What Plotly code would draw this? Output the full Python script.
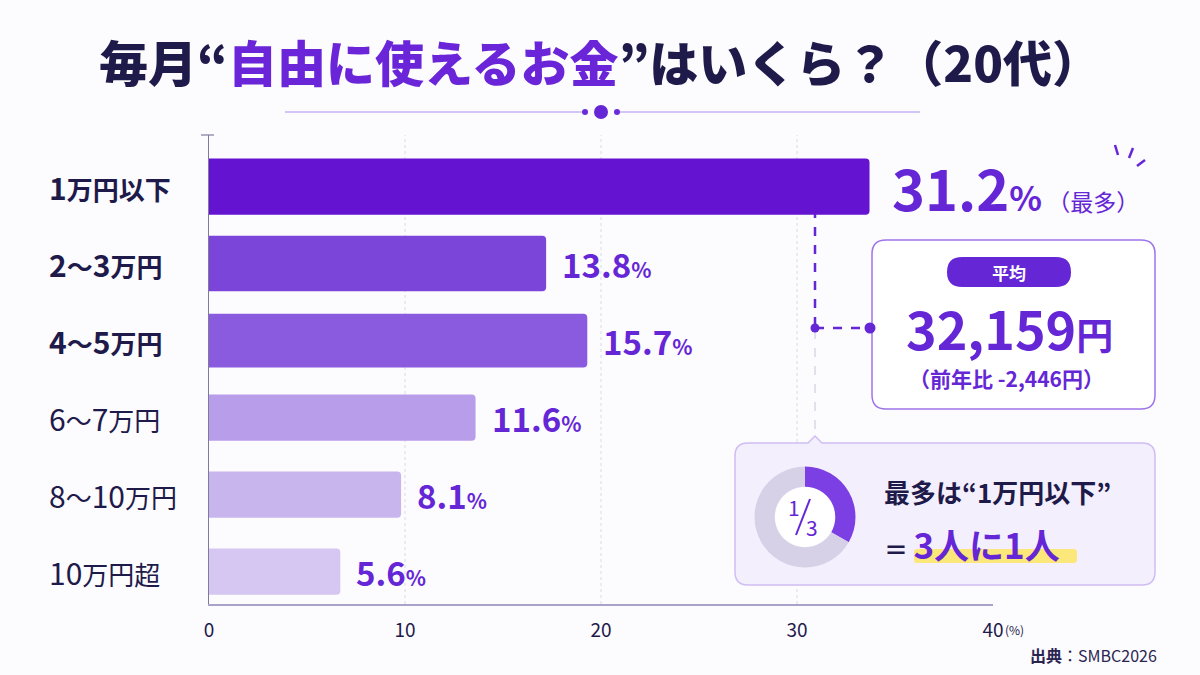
import plotly.graph_objects as go

# ---------------- data ----------------
categories = ["1万円以下", "2～3万円", "4～5万円", "6～7万円", "8～10万円", "10万円超"]
pct_labels = [31.2, 13.8, 15.7, 11.6, 8.1, 5.6]          # printed values
bar_lengths = [33.7, 17.2, 19.3, 13.6, 9.8, 6.7]         # bar lengths as drawn, read against the axis
x_ticks = [0, 10, 20, 30, 40]
avg_yen = 32159
yoy_yen = -2446
donut_values = [1, 2]                                    # 1 in 3 people
donut_labels = ["1万円以下", "その他"]

# ---------------- styles ----------------
W, H = 1200, 675
FONT = "Noto Sans CJK JP"
NAVY = "#1E1A4A"
PURPLE = "#6526D6"
bar_colors = ["#6414D0", "#7B45DA", "#8A5BDF", "#B89DEA", "#C8B5EE", "#D5C7F2"]
bar_widths = [0.73, 0.72, 0.70, 0.60, 0.60, 0.60]


def X(px):
    return px / W


def Y(py):
    return 1 - py / H


def rrect(x0, y0, x1, y1, r, notch=None):
    pts = [f"M{X(x0 + r):.5f},{Y(y0):.5f}"]
    if notch:
        nx, nw, nh = notch
        pts += [f"L{X(nx - nw):.5f},{Y(y0):.5f}", f"L{X(nx):.5f},{Y(y0 - nh):.5f}",
                f"L{X(nx + nw):.5f},{Y(y0):.5f}"]
    pts += [
        f"L{X(x1 - r):.5f},{Y(y0):.5f}", f"Q{X(x1):.5f},{Y(y0):.5f} {X(x1):.5f},{Y(y0 + r):.5f}",
        f"L{X(x1):.5f},{Y(y1 - r):.5f}", f"Q{X(x1):.5f},{Y(y1):.5f} {X(x1 - r):.5f},{Y(y1):.5f}",
        f"L{X(x0 + r):.5f},{Y(y1):.5f}", f"Q{X(x0):.5f},{Y(y1):.5f} {X(x0):.5f},{Y(y1 - r):.5f}",
        f"L{X(x0):.5f},{Y(y0 + r):.5f}", f"Q{X(x0):.5f},{Y(y0):.5f} {X(x0 + r):.5f},{Y(y0):.5f}", "Z"]
    return " ".join(pts)


def circ(cx, cy, r, color, layer="below"):
    return dict(type="circle", xref="paper", yref="paper", x0=X(cx - r), x1=X(cx + r),
                y0=Y(cy + r), y1=Y(cy - r), fillcolor=color, line=dict(width=0), layer=layer)


def seg(x0, y0, x1, y1, color, width=1.5, dash="solid", layer="below"):
    return dict(type="line", xref="paper", yref="paper", x0=X(x0), y0=Y(y0), x1=X(x1), y1=Y(y1),
                line=dict(color=color, width=width, dash=dash), layer=layer)


def fmt_cat(s, bold):
    out = ""
    for ch in s:
        if ch.isdigit():
            out += f"<span style='font-size:30px'>{ch}</span>"
        else:
            out += f"<span style='font-size:26px'>{ch}</span>"
    return f"<b>{out}</b>" if bold else out


fig = go.Figure()

fig.add_trace(go.Bar(
    x=bar_lengths, y=categories, orientation="h",
    marker=dict(color=bar_colors, line=dict(width=0)),
    width=bar_widths, hoverinfo="skip", showlegend=False,
))

fig.add_trace(go.Pie(
    values=donut_values, labels=donut_labels, hole=0.6, sort=False, direction="clockwise",
    marker=dict(colors=["#7B3FE4", "#D6D1E6"], line=dict(width=0)),
    textinfo="none", hoverinfo="skip", showlegend=False, automargin=False,
    domain=dict(x=[X(754.5), X(855.5)], y=[Y(567.5), Y(466.5)]),
))

shapes = []
# gridlines
for t in x_ticks[1:-1]:
    shapes.append(dict(type="line", xref="x", yref="paper", x0=t, x1=t, y0=Y(604), y1=Y(135),
                       line=dict(color="#DCD8E6", width=1, dash="dot"), layer="below"))
# small tick at top of y-axis
shapes.append(seg(201, 135, 214, 135, "#7F7A99", 1.2))
# title decoration
shapes.append(seg(285, 112, 582, 112, "#C7B3F4", 1.5))
shapes.append(seg(620, 112, 920, 112, "#C7B3F4", 1.5))
shapes.append(circ(585, 112, 3, "#6A2BDB"))
shapes.append(circ(617, 112, 3, "#6A2BDB"))
shapes.append(circ(601, 112, 7, "#6526D6"))
# connector lines
shapes.append(seg(815, 330, 815, 438, "#D3CDE2", 1.2, "dash"))
shapes.append(seg(815, 209, 815, 328, PURPLE, 2.5, "dash"))
shapes.append(seg(815, 328, 869, 328, PURPLE, 2.5, "dash"))
shapes.append(circ(815, 328, 4.5, PURPLE))
# average box
shapes.append(dict(type="path", xref="paper", yref="paper", path=rrect(872, 240, 1155, 409, 14),
                   fillcolor="#FFFFFF", line=dict(color="#9E74EA", width=1.5), layer="below"))
shapes.append(circ(870, 328, 5.5, PURPLE))
shapes.append(dict(type="path", xref="paper", yref="paper", path=rrect(947, 257, 1071, 287, 15),
                   fillcolor=PURPLE, line=dict(width=0), layer="below"))
# bottom box
shapes.append(dict(type="path", xref="paper", yref="paper",
                   path=rrect(735, 443, 1155, 585, 13, notch=(815, 7, 7)),
                   fillcolor="#F4EFFD", line=dict(color="#CFBDF3", width=1.5), layer="below"))
shapes.append(circ(805, 517, 30, "#FFFFFF"))
# fraction slash inside donut
shapes.append(seg(796, 535, 810, 499, PURPLE, 2, layer="above"))
# highlight
shapes.append(dict(type="path", xref="paper", yref="paper", path=rrect(914, 549, 1077, 563, 3),
                   fillcolor="#FCE77A", line=dict(width=0), layer="below"))
# sparkle strokes
shapes.append(seg(1115, 145, 1118, 155, PURPLE, 2.5, layer="above"))
shapes.append(seg(1133, 148, 1129, 158, PURPLE, 2.5, layer="above"))
shapes.append(seg(1145, 160, 1137, 166, PURPLE, 2.5, layer="above"))

ann = []
# title
ann.append(dict(xref="paper", yref="paper", x=X(600), y=Y(60), xanchor="center", yanchor="middle",
                showarrow=False,
                text="毎月“<span style='color:#6A25D8'>自由に使えるお金</span>”はいくら？（20代）",
                font=dict(family=FONT, size=49, color=NAVY, weight=900)))
# category labels
for i, c in enumerate(categories):
    ann.append(dict(xref="paper", yref="y", x=X(47), y=c, xanchor="left", yanchor="middle",
                    showarrow=False, text=fmt_cat(c, i < 3),
                    font=dict(family=FONT, size=26, color=NAVY)))
# value labels
for i, (c, L, v) in enumerate(zip(categories, bar_lengths, pct_labels)):
    if i == 0:
        txt = (f"<b>{v}</b><span style='font-size:34px'><b>%</b></span>"
               f"<span style='font-size:23px'> （最多）</span>")
        size, shift = 56, 20
    else:
        txt = f"<b>{v}</b><span style='font-size:21px'><b>%</b></span>"
        size, shift = 33, 14
    ann.append(dict(xref="x", yref="y", x=L, y=c, xanchor="left", yanchor="middle",
                    xshift=shift, showarrow=False, text=txt,
                    font=dict(family=FONT, size=size, color=PURPLE)))
# average box texts
ann.append(dict(xref="paper", yref="paper", x=X(1009), y=Y(272), xanchor="center", yanchor="middle",
                showarrow=False, text="<b>平均</b>", font=dict(family=FONT, size=17, color="#FFFFFF")))
ann.append(dict(xref="paper", yref="paper", x=X(1009), y=Y(328), xanchor="center", yanchor="middle",
                showarrow=False,
                text=f"<b>{avg_yen:,}</b><span style='font-size:37px'><b>円</b></span>",
                font=dict(family=FONT, size=52, color=PURPLE)))
ann.append(dict(xref="paper", yref="paper", x=X(1007), y=Y(378), xanchor="center", yanchor="middle",
                showarrow=False, text=f"（前年比 {'-' if yoy_yen < 0 else '+'}{abs(yoy_yen):,}円）",
                font=dict(family=FONT, size=21, color=PURPLE, weight=600)))
# bottom box texts: 1/3 fraction
ann.append(dict(xref="paper", yref="paper", x=X(794), y=Y(507), xanchor="center", yanchor="middle",
                showarrow=False, text="1", font=dict(family=FONT, size=21, color=PURPLE)))
ann.append(dict(xref="paper", yref="paper", x=X(812), y=Y(527), xanchor="center", yanchor="middle",
                showarrow=False, text="3", font=dict(family=FONT, size=21, color=PURPLE)))
ann.append(dict(xref="paper", yref="paper", x=X(882), y=Y(491), xanchor="left", yanchor="middle",
                showarrow=False, text=f"<b>最多は“{categories[0]}”</b>",
                font=dict(family=FONT, size=26, color=NAVY)))
ann.append(dict(xref="paper", yref="paper", x=X(882), y=Y(543), xanchor="left", yanchor="middle",
                showarrow=False,
                text="<b>＝ <span style='color:#6526D6;font-size:35px'>3人に1人</span></b>",
                font=dict(family=FONT, size=24, color=NAVY)))
# axis unit and source
ann.append(dict(xref="paper", yref="paper", x=X(1003), y=Y(629), xanchor="left", yanchor="middle",
                showarrow=False, text="(%)", font=dict(family=FONT, size=12, color=NAVY)))
ann.append(dict(xref="paper", yref="paper", x=X(1159), y=Y(655), xanchor="right", yanchor="middle",
                showarrow=False, text="<b>出典</b>：SMBC2026",
                font=dict(family=FONT, size=16, color="#2A2550")))

fig.update_layout(
    width=W, height=H, autosize=False,
    margin=dict(l=0, r=0, t=0, b=0, pad=0, autoexpand=False),
    paper_bgcolor="#FCFBFE", plot_bgcolor="rgba(0,0,0,0)",
    barcornerradius=4,
    xaxis=dict(domain=[X(209), X(993)], range=[0, 40], tickvals=x_ticks, showgrid=False,
               zeroline=False, showline=True, linecolor="#A9A3C9", linewidth=1.5, ticks="",
               automargin=False,
               tickfont=dict(family=FONT, size=19, color=NAVY), ticklabelstandoff=8, fixedrange=True),
    yaxis=dict(domain=[Y(604), Y(135)], type="category", categoryorder="array",
               categoryarray=categories, range=[5.421, -0.670], showticklabels=False,
               showgrid=False, zeroline=False, showline=True, linecolor="#7F7A99", linewidth=1.2,
               automargin=False, fixedrange=True),
    shapes=shapes, annotations=ann,
)

fig.write_html("out.html", config={"responsive": False, "displayModeBar": False})
